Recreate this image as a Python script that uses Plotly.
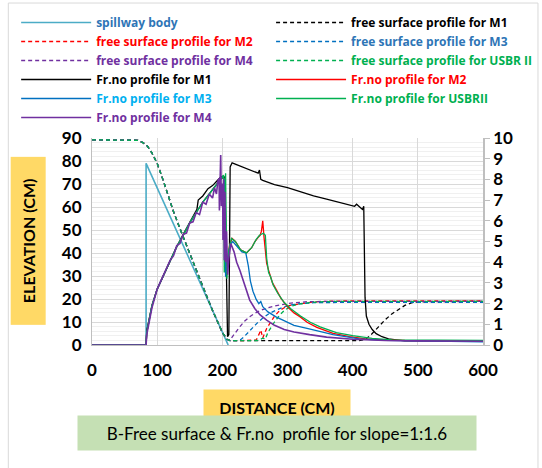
import plotly.graph_objects as go

# ---------------- data ----------------
spill_x = [0, 83, 83, 209]
spill_y = [0, 0, 79, 0]

# free surface upstream (common to all models)
fs_up_x = [0, 40, 70, 78, 85, 92, 100, 110, 125, 140, 155, 170, 185, 200, 207, 212]
fs_up_y = [89.2, 89.2, 89.0, 88.0, 86.5, 83.5, 79.0, 71.0, 58.0, 47.0, 36.0, 25.5, 15.0, 5.5, 2.5, 1.9]

fs_m1_x = [300, 410, 420, 430, 440, 450, 460, 470, 480, 490, 500, 600]
fs_m1_y = [1.9, 1.9, 2.5, 5.0, 8.0, 11.0, 13.5, 15.5, 17.2, 18.3, 18.8, 19.0]

fs_m2_x = [230, 245, 252, 256, 259, 262, 265, 268, 271, 275, 280, 288, 295, 305, 320, 340, 360, 400, 600]
fs_m2_y = [1.9, 2.0, 2.2, 4.5, 6.5, 3.0, 5.5, 7.2, 8.5, 10.5, 12.5, 15.0, 16.2, 17.3, 18.0, 18.7, 19.0, 19.2, 19.2]

fs_m3_x = [222, 228, 233, 238, 245, 253, 262, 272, 283, 295, 305, 320, 340, 380, 600]
fs_m3_y = [1.9, 2.3, 3.5, 5.0, 7.0, 9.4, 11.7, 13.7, 15.2, 16.6, 17.4, 18.0, 18.4, 18.5, 18.5]

fs_m4_x = [214, 220, 227, 234, 242, 250, 258, 268, 280, 292, 305, 330, 360, 600]
fs_m4_y = [3.0, 5.5, 8.0, 10.3, 12.3, 13.8, 15.0, 16.0, 17.0, 17.6, 18.2, 18.8, 19.0, 19.0]

fs_us_x = [240, 255, 262, 266, 270, 275, 280, 288, 295, 305, 320, 340, 360, 400, 600]
fs_us_y = [1.9, 2.0, 3.0, 2.5, 5.5, 8.0, 10.0, 13.0, 15.0, 16.8, 17.9, 18.6, 18.9, 19.0, 19.0]

# Froude number profiles (right axis)
fr_rise_x = [0, 83, 84, 87, 92, 100, 110, 120, 130, 140, 150, 160, 170, 180, 190, 200]
fr_rise_y = [0, 0, 0.6, 1.1, 1.9, 2.7, 3.4, 4.1, 4.75, 5.3, 5.9, 6.4, 6.9, 7.3, 7.7, 8.1]

fr_m1_x = [0, 83, 84, 87, 92, 100, 110, 120, 130, 140, 150, 158, 161, 163, 170, 178, 185, 191, 197, 201,
           204, 206, 208, 210, 212, 215, 230, 245, 255, 257, 259, 262, 280, 300, 320, 340, 360, 380, 398,
           403, 406, 410, 413, 415, 417, 418, 419, 421, 425, 430, 436, 445, 455, 467, 480, 500, 600]
fr_m1_y = [0, 0, 0.7, 1.1, 1.9, 2.7, 3.4, 4.1, 4.75, 5.35, 5.9, 6.4, 6.55, 7.0, 7.2, 7.55, 7.7, 7.9, 8.1, 8.15,
           8.1, 4.0, 0.4, 0.5, 8.6, 8.8, 8.6, 8.4, 8.3, 8.45, 8.0, 7.95, 7.75, 7.6, 7.4, 7.2, 7.05, 6.9, 6.75,
           6.7, 6.8, 6.7, 6.6, 6.55, 6.7, 2.5, 2.3, 1.4, 1.0, 0.75, 0.55, 0.4, 0.3, 0.25, 0.2, 0.2, 0.2]

fr_m2_x = [203, 205, 208, 211, 215, 220, 228, 237, 245, 250, 255, 258, 260, 262, 264, 266, 268, 272, 277,
           283, 290, 300, 310, 319, 330, 345, 370, 395, 420, 450, 480, 600]
fr_m2_y = [8.0, 3.5, 4.0, 4.8, 5.15, 5.0, 4.6, 4.45, 4.7, 5.0, 5.2, 5.3, 5.5, 6.0, 5.2, 4.4, 3.95, 3.5, 3.0,
           2.66, 2.25, 1.85, 1.55, 1.37, 1.1, 0.85, 0.56, 0.4, 0.3, 0.25, 0.22, 0.2]

fr_m3_x = [203, 205, 208, 212, 216, 222, 230, 236, 240, 243, 247, 252, 256, 259, 262, 270, 283, 293, 310,
           330, 345, 370, 410, 450, 600]
fr_m3_y = [8.0, 3.3, 4.0, 4.85, 5.0, 4.8, 4.5, 4.45, 3.8, 3.1, 2.6, 2.2, 2.0, 2.1, 1.85, 1.6, 1.35, 1.2, 0.95,
           0.8, 0.7, 0.5, 0.3, 0.22, 0.15]

fr_us_x = [202, 203, 205, 207, 210, 214, 220, 228, 237, 245, 252, 257, 263, 266, 268, 271, 274, 278, 285,
           295, 305, 320, 335, 350, 375, 400, 430, 460, 600]
fr_us_y = [8.2, 3.5, 8.3, 3.2, 4.6, 5.15, 5.0, 4.6, 4.45, 4.7, 5.1, 5.3, 5.4, 5.3, 4.2, 3.5, 3.3, 2.9, 2.5,
           2.05, 1.75, 1.4, 1.1, 0.88, 0.6, 0.45, 0.32, 0.25, 0.22]

fr_m4_x = [0, 83, 84, 87, 92, 100, 110, 120, 125, 130, 135, 140, 145, 150, 155, 160, 165, 170, 175, 180, 185,
           188, 191, 193, 195, 195.5, 197.5, 198.5, 200.5, 201, 202, 203, 204, 205, 206.5, 208, 210, 213, 218,
           222, 227, 232, 237, 242, 250, 258, 268, 280, 295, 310, 334, 360, 400, 450, 500, 600]
fr_m4_y = [0, 0, 0.5, 1.0, 1.8, 2.7, 3.4, 4.1, 4.3, 4.8, 4.9, 5.35, 5.4, 5.9, 5.95, 6.4, 6.3, 6.9, 6.8, 7.3, 7.1,
           7.6, 7.3, 7.9, 8.05, 6.5, 9.18, 6.7, 7.8, 5.07, 8.0, 4.1, 7.4, 4.0, 5.5, 3.4, 4.2, 4.9, 4.5,
           4.0, 3.6, 3.1, 2.6, 2.17, 1.75, 1.45, 1.2, 0.95, 0.75, 0.63, 0.5, 0.38, 0.28, 0.22, 0.2, 0.18]

# colors
C_SPILL = "#4BACC6"
C_BLACK = "#000000"
C_RED = "#FF0000"
C_BLUE = "#0070C0"
C_PURPLE = "#7030A0"
C_GREEN = "#00B050"
DASH = "4px,3px"


def lbl(text, color):
    return f"<span style='color:{color}'><b>{text}</b></span>"


fig = go.Figure()

# spillway
fig.add_trace(go.Scatter(x=spill_x, y=spill_y, mode="lines", line=dict(color=C_SPILL, width=1.6),
                         name=lbl("spillway body", "#2E75B6"), legend="legend", legendrank=1))


def fs_trace(dx, dy, color, name, textcolor, leg, rank):
    fig.add_trace(go.Scatter(x=fs_up_x + dx, y=fs_up_y + dy, mode="lines",
                             line=dict(color=color, width=1.3, dash=DASH),
                             name=lbl(name, textcolor), legend=leg, legendrank=rank))


fs_trace([212] + fs_m1_x, [1.9] + fs_m1_y, C_BLACK, "free surface profile for M1", C_BLACK, "legend2", 1)
fs_trace(fs_m2_x, fs_m2_y, C_RED, "free surface profile for M2", C_RED, "legend", 2)
fs_trace(fs_m3_x, fs_m3_y, C_BLUE, "free surface profile for M3", "#2E75B6", "legend2", 2)
fs_trace(fs_m4_x, fs_m4_y, C_PURPLE, "free surface profile for M4", C_PURPLE, "legend", 3)
fs_trace(fs_us_x, fs_us_y, C_GREEN, "free surface profile for USBR II", C_GREEN, "legend2", 3)


def fr_trace(xs, ys, color, name, textcolor, leg, rank, width=1.3):
    fig.add_trace(go.Scatter(x=xs, y=ys, mode="lines", yaxis="y2", line=dict(color=color, width=width),
                             name=lbl(name, textcolor), legend=leg, legendrank=rank))


fr_trace(fr_m1_x, fr_m1_y, C_BLACK, "Fr.no profile for M1", C_BLACK, "legend", 4)
fr_trace(fr_rise_x + fr_m2_x, fr_rise_y + fr_m2_y, C_RED, "Fr.no profile for M2", C_RED, "legend2", 4)
fr_trace(fr_rise_x + fr_m3_x, fr_rise_y + fr_m3_y, C_BLUE, "Fr.no profile for M3", "#00B0F0", "legend", 5)
fr_trace(fr_rise_x + fr_us_x, fr_rise_y + fr_us_y, C_GREEN, "Fr.no profile for USBRII", C_GREEN, "legend2", 5)
fr_trace(fr_m4_x, fr_m4_y, C_PURPLE, "Fr.no profile for M4", C_PURPLE, "legend", 6, width=1.6)

FONT = "Lato"
LFONT = "Open Sans"
GRID = "#D9D9D9"

leg_common = dict(orientation="v", yanchor="top", xanchor="left", itemwidth=70, tracegroupgap=0,
                  traceorder="normal", font=dict(family=LFONT, size=12), bgcolor="rgba(0,0,0,0)")

fig.update_layout(
    width=542, height=468,
    margin=dict(l=92, r=59, t=138, b=123, autoexpand=False),
    paper_bgcolor="white", plot_bgcolor="white",
    font=dict(family=FONT, size=13, color="black"),
    showlegend=True,
    legend=dict(x=-0.194, y=1.628, **leg_common),
    legend2=dict(x=0.458, y=1.628, **leg_common),
    xaxis=dict(range=[0, 600], tickvals=[0, 100, 200, 300, 400, 500, 600], showgrid=True, gridcolor=GRID,
               gridwidth=1, zeroline=False, showline=True, linecolor="#BFBFBF", linewidth=1,
               ticks="", tickfont=dict(family=FONT, size=17, weight="bold"), ticklabelstandoff=10),
    yaxis=dict(range=[0, 90], dtick=10, showgrid=True, gridcolor=GRID, gridwidth=1, zeroline=False,
               showline=True, linecolor="#BFBFBF", linewidth=1, ticks="",
               tickfont=dict(family=FONT, size=17, weight="bold"), ticklabelstandoff=6,
               minor=dict(dtick=2, showgrid=True, gridcolor="#F0F0F0", gridwidth=1)),
    yaxis2=dict(range=[0, 10], dtick=1, overlaying="y", side="right", showgrid=False, zeroline=False,
                showline=True, linecolor="#BFBFBF", linewidth=1.5, ticks="outside", ticklen=5,
                tickcolor="#BFBFBF", tickfont=dict(family=FONT, size=17, weight="bold")),
)

# annotations: axis titles with coloured boxes and caption
fig.add_annotation(xref="paper", yref="paper", x=-0.163, y=0.502, xanchor="center", yanchor="middle",
                   text="<b>ELEVATION (CM)</b>", textangle=-90, showarrow=False, bgcolor="#FFD966",
                   width=159, height=26, borderpad=4, font=dict(family=FONT, size=16, color="black"))
fig.add_annotation(xref="paper", yref="paper", x=0.4736, y=-0.2126, xanchor="center", yanchor="top",
                   text="<b>DISTANCE (CM)</b>", showarrow=False, bgcolor="#FFD966", width=138, height=26,
                   borderpad=4, font=dict(family=FONT, size=16, color="black"))
fig.add_annotation(xref="paper", yref="paper", x=0.4736, y=-0.3382, xanchor="center", yanchor="top",
                   text="B-Free surface &amp; Fr.no&nbsp; profile for slope=1:1.6",
                   showarrow=False, bgcolor="#C5E0B4", width=390, height=26, borderpad=4,
                   font=dict(family=FONT, size=17, color="black"))

# outer chart border
fig.add_shape(type="rect", xref="paper", yref="paper", x0=-0.214, x1=1.1406, y0=-0.75, y1=1.652,
              line=dict(color="#D9D9D9", width=1), fillcolor="rgba(0,0,0,0)", layer="below")

fig.write_html("out.html", config={"displayModeBar": False},
               post_script="document.body.style.margin='0';")
